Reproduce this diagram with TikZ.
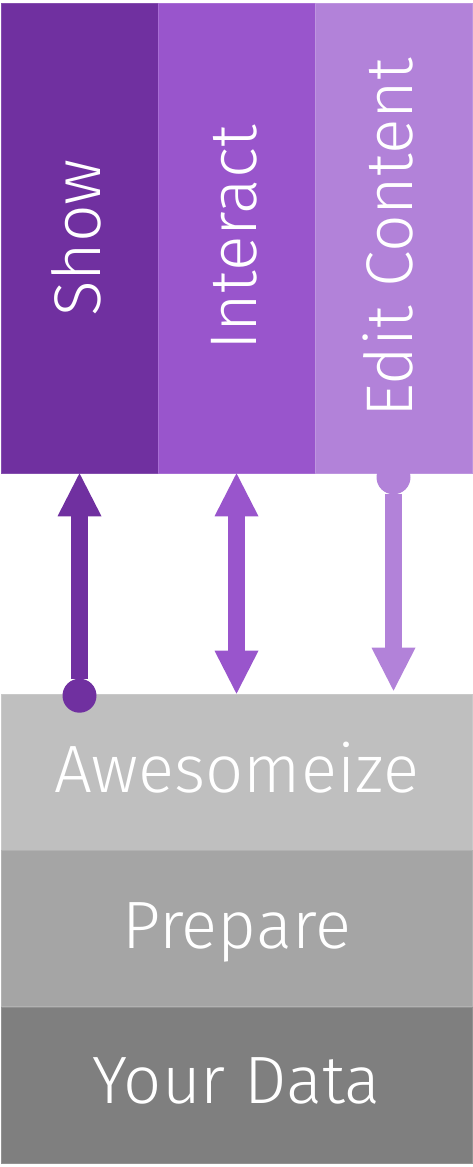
\documentclass[tikz,border=0pt]{standalone}
\usepackage{fontspec}
\setmainfont{Fira Sans Light}
\usetikzlibrary{arrows.meta,calc}
\definecolor{showc}{HTML}{7030A0}
\definecolor{interc}{HTML}{9955CC}
\definecolor{editc}{HTML}{B282D9}
\definecolor{awec}{HTML}{BFBFBF}
\definecolor{prepc}{HTML}{A5A5A5}
\definecolor{datac}{HTML}{7F7F7F}
\tikzset{
  bigtri/.tip={Triangle[length=43pt,width=44pt,line width=0pt]},
  bigdot/.tip={Circle[length=34pt,line width=0pt]}}
\begin{document}
\begin{tikzpicture}[x=1pt,y=-1pt,
  colbox/.style={draw=#1!85!white,line width=0.6pt,fill=#1,minimum width=157pt,minimum height=470pt,inner sep=0pt},
  rowbox/.style={draw=#1!85!white,line width=0.6pt,fill=#1,minimum width=471pt,minimum height=156pt,inner sep=0pt},
  vlabel/.style={text=white,rotate=90,anchor=base,inner sep=0pt,font=\fontsize{66}{70}\selectfont},
  hlabel/.style={text=white,anchor=base,inner sep=0pt,font=\fontsize{67}{70}\selectfont},
  flow/.style={line width=17pt,#1}]
\useasboundingbox (0,0) rectangle (473,1167);
% upper columns
\node[colbox=showc]   (show)     at (79.5,238) {};
\node[colbox=interc]  (interact) at (236.5,238) {};
\node[colbox=editc]   (edit)     at (393.5,238) {};
\node[vlabel] (showt)  at (100.5,238) {Show};
\node[vlabel] (intert) at (256,238) {Interact};
\node[vlabel] (editt)  at (412.5,238) {Edit Content};
% lower stack
\node[rowbox=awec]  (awe)  at (236.5,772) {};
\node[rowbox=prepc] (prep) at (236.5,928.5) {};
\node[rowbox=datac] (data) at (236.5,1085) {};
\node[hlabel] (awet)  at (236.5,792) {Awesomeize};
\node[hlabel] (prept) at (236.5,948) {Prepare};
\node[hlabel] (datat) at (236.5,1103) {Your Data};
% connectors
\coordinate (showfoot) at ($(awe.north -| show.south)+(0,19)$);
\coordinate (interfoot) at (awe.north -| interact.south);
\coordinate (edittop) at ($(edit.south)+(0,-13)$);
\coordinate (editfoot) at ($(awe.north -| edit.south)+(0,-3)$);
\draw[flow=showc, bigdot-bigtri] (showfoot) -- (show.south);
\draw[flow=interc, bigtri-bigtri] (interact.south) -- (interfoot);
\draw[flow=editc, bigdot-bigtri] (edittop) -- (editfoot);
\end{tikzpicture}
\end{document}
